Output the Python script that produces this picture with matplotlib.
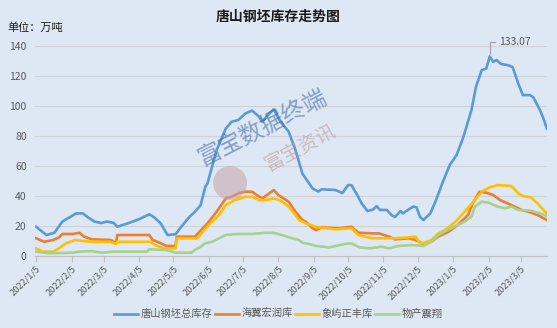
import numpy as np
import pandas as pd
import matplotlib
matplotlib.use("Agg")
import matplotlib.pyplot as plt
from matplotlib.patches import Circle
from matplotlib.transforms import IdentityTransform

plt.rcParams['font.family'] = ['Noto Sans CJK SC', 'DejaVu Sans']

# 唐山钢坯总库存
ts_dates = ['2022-01-05', '2022-01-14', '2022-01-21', '2022-01-28', '2022-02-09', '2022-02-15',
            '2022-02-19', '2022-02-25', '2022-03-03', '2022-03-08', '2022-03-14', '2022-03-17',
            '2022-03-27', '2022-04-05', '2022-04-14', '2022-04-18', '2022-04-24', '2022-04-30',
            '2022-05-07', '2022-05-11', '2022-05-19', '2022-05-24', '2022-05-29', '2022-06-02',
            '2022-06-04', '2022-06-12', '2022-06-20', '2022-06-25', '2022-07-01', '2022-07-07',
            '2022-07-13', '2022-07-19', '2022-07-22', '2022-07-28', '2022-08-01', '2022-08-07',
            '2022-08-14', '2022-08-20', '2022-08-26', '2022-09-04', '2022-09-09', '2022-09-12',
            '2022-09-24', '2022-09-30', '2022-10-05', '2022-10-08', '2022-10-13', '2022-10-17',
            '2022-10-22', '2022-10-27', '2022-10-30', '2022-11-02', '2022-11-08', '2022-11-12',
            '2022-11-15', '2022-11-20', '2022-11-22', '2022-11-25', '2022-12-01', '2022-12-04',
            '2022-12-07', '2022-12-10', '2022-12-16', '2022-12-21', '2022-12-27', '2023-01-02',
            '2023-01-08', '2023-01-14', '2023-01-21', '2023-01-25', '2023-01-30', '2023-02-03',
            '2023-02-06', '2023-02-09', '2023-02-12', '2023-02-16', '2023-02-22', '2023-02-26',
            '2023-03-03', '2023-03-07', '2023-03-13', '2023-03-16', '2023-03-19', '2023-03-22',
            '2023-03-25', '2023-03-28']
ts_vals = [19.5, 14, 15.5, 23, 28.4, 28.4, 26, 23, 22, 23, 22, 19.5,
           22, 24.5, 27.8, 26, 21.8, 14, 14.5, 18.5, 26, 29.5, 34, 46,
           48.5, 70.7, 85, 89.5, 90.7, 95, 97, 93, 89.5, 95, 97.8, 89.5,
           83, 70.7, 55, 45, 43, 44.5, 44, 42, 47.3, 47.3, 40.7, 35,
           30, 31, 33.3, 30.7, 30.7, 27.3, 26, 30, 28.4, 30, 33, 32.4,
           26, 24, 28.4, 37.3, 49.5, 60.7, 67.3, 79.5, 97.3, 113, 124, 125,
           133.07, 129.5, 130.7, 128, 127.3, 126, 115, 107.3, 107.3, 106, 101.7, 97.3,
           91.7, 85]

# 海翼宏润库
hy_dates = ['2022-01-05', '2022-01-12', '2022-01-20', '2022-01-25', '2022-01-28', '2022-02-06',
            '2022-02-12', '2022-02-16', '2022-02-23', '2022-03-11', '2022-03-16', '2022-03-17',
            '2022-04-14', '2022-04-17', '2022-04-23', '2022-04-29', '2022-05-07', '2022-05-08',
            '2022-05-24', '2022-06-04', '2022-06-12', '2022-06-20', '2022-06-25', '2022-07-01',
            '2022-07-07', '2022-07-13', '2022-07-17', '2022-07-22', '2022-07-28', '2022-08-01',
            '2022-08-05', '2022-08-14', '2022-08-20', '2022-08-26', '2022-08-29', '2022-09-04',
            '2022-09-07', '2022-09-12', '2022-09-27', '2022-10-08', '2022-10-14', '2022-10-26',
            '2022-11-01', '2022-11-10', '2022-11-15', '2022-11-27', '2022-12-03', '2022-12-10',
            '2022-12-17', '2022-12-23', '2023-01-01', '2023-01-09', '2023-01-18', '2023-01-22',
            '2023-01-28', '2023-02-03', '2023-02-09', '2023-02-15', '2023-02-22', '2023-02-28',
            '2023-03-06', '2023-03-12', '2023-03-20', '2023-03-28']
hy_vals = [11.8, 9.5, 10.7, 12.4, 14.7, 14.7, 15.5, 12.9, 11.1, 10.7, 8.9, 14,
           14, 10.7, 8.9, 6.7, 6.7, 12.9, 12.9, 21.8, 29.5, 38.4, 39.5, 41.8,
           42.9, 42.9, 40.7, 38.4, 41.8, 44, 40.7, 36.2, 29.5, 24, 22.9, 18.5,
           17.3, 19.1, 18.5, 19.5, 15.5, 15.1, 15.1, 12.9, 11.1, 11.8, 10.7, 8,
           9.5, 13, 16.2, 20.7, 27.3, 35, 42.9, 42.2, 40.7, 37.3, 35, 32.9,
           30.7, 29.5, 27.3, 24]

# 象屿正丰库
xy_dates = ['2022-01-05', '2022-01-11', '2022-01-20', '2022-01-25', '2022-01-31', '2022-02-08',
            '2022-02-15', '2022-02-23', '2022-03-11', '2022-03-16', '2022-03-17', '2022-04-15',
            '2022-04-19', '2022-04-27', '2022-05-07', '2022-05-08', '2022-05-26', '2022-06-05',
            '2022-06-14', '2022-06-20', '2022-06-28', '2022-07-07', '2022-07-13', '2022-07-19',
            '2022-07-25', '2022-08-01', '2022-08-07', '2022-08-14', '2022-08-20', '2022-08-23',
            '2022-08-29', '2022-09-07', '2022-09-09', '2022-09-24', '2022-10-08', '2022-10-14',
            '2022-10-26', '2022-11-15', '2022-11-27', '2022-12-03', '2022-12-07', '2022-12-11',
            '2022-12-17', '2022-12-23', '2022-12-29', '2023-01-07', '2023-01-15', '2023-01-24',
            '2023-01-30', '2023-02-06', '2023-02-13', '2023-02-25', '2023-03-03', '2023-03-07',
            '2023-03-14', '2023-03-20', '2023-03-25', '2023-03-28']
xy_vals = [5.1, 2.9, 2.9, 5.1, 8.4, 10.7, 10, 9.5, 9.5, 8, 9.5, 9.5,
           7.3, 5.1, 5.1, 11.8, 11.8, 20.7, 27.3, 34, 37.3, 39.5, 39.5, 37.3,
           37.3, 38.4, 36.9, 32.9, 27.3, 24, 21.8, 19.5, 19.1, 17.8, 18.5, 14,
           11.8, 11.8, 12.4, 12.9, 8.4, 8.9, 10.7, 15.1, 17.3, 22.9, 29.5, 37.3,
           42.9, 45.8, 47.3, 46.7, 41.8, 40, 39.1, 35, 30.7, 28.4]

# 物产震翔
wc_dates = ['2022-01-05', '2022-01-16', '2022-02-06', '2022-02-12', '2022-02-22', '2022-03-04',
            '2022-03-13', '2022-04-12', '2022-04-14', '2022-04-29', '2022-05-07', '2022-05-21',
            '2022-05-24', '2022-05-29', '2022-06-02', '2022-06-08', '2022-06-20', '2022-07-01',
            '2022-07-13', '2022-07-25', '2022-08-01', '2022-08-08', '2022-08-17', '2022-08-23',
            '2022-08-26', '2022-09-01', '2022-09-07', '2022-09-14', '2022-09-18', '2022-10-02',
            '2022-10-08', '2022-10-15', '2022-10-24', '2022-11-03', '2022-11-10', '2022-11-18',
            '2022-11-30', '2022-12-10', '2022-12-17', '2022-12-23', '2023-01-03', '2023-01-15',
            '2023-01-21', '2023-01-24', '2023-01-30', '2023-02-05', '2023-02-13', '2023-02-19',
            '2023-02-25', '2023-03-03', '2023-03-14', '2023-03-20', '2023-03-28']
wc_vals = [2.9, 1.8, 2.2, 2.9, 3.3, 2.2, 2.9, 2.9, 4.4, 4, 2.2, 2.2,
           4, 6.2, 8.4, 9.5, 14, 14.7, 14.7, 15.5, 15.5, 14, 11.8, 10.7,
           8.9, 8, 6.7, 6.2, 5.6, 8, 8.4, 5.8, 5.1, 6.2, 5.1, 6.7,
           7.3, 6.7, 9.5, 14, 18.5, 22.9, 26.2, 32.9, 36.2, 35.6, 32.9, 31.8,
           32.9, 30.7, 30.2, 28.9, 26.7]

series = [('唐山钢坯总库存', ts_dates, ts_vals, '#5b9bd5'),
          ('海翼宏润库', hy_dates, hy_vals, '#ed7d31'),
          ('象屿正丰库', xy_dates, xy_vals, '#ffc000'),
          ('物产震翔', wc_dates, wc_vals, '#a9d18e')]

tick_dates = pd.date_range('2022-01-01', '2023-03-01', freq='MS') + pd.Timedelta(days=4)

bg = '#dde8f4'
fig = plt.figure(figsize=(5.57, 3.28), dpi=100, facecolor=bg)
ax = fig.add_axes([0.0628, 0.2195, 0.919, 0.640], facecolor=bg)

for name, d, v, c in series:
    ax.plot(pd.to_datetime(d), v, color=c, lw=1.9, label=name, solid_joinstyle='round')

ax.set_ylim(0, 140)
ax.set_yticks(range(0, 141, 20))
ax.set_xlim(pd.Timestamp('2022-01-04'), pd.Timestamp('2023-03-28'))
ax.set_xticks(tick_dates)
ax.set_xticklabels([f'{d.year}/{d.month}/{d.day}' for d in tick_dates],
                   rotation=45, ha='right', rotation_mode='anchor', fontsize=6.7, color='#595959')
ax.tick_params(axis='y', length=0, labelsize=7.5, labelcolor='#595959', pad=6)
ax.tick_params(axis='x', length=4, color='#bfbfbf', width=0.8, pad=2)
ax.grid(axis='y', color='#d0d4d9', lw=0.8)
ax.set_axisbelow(True)
for s in ['top', 'right', 'left']:
    ax.spines[s].set_visible(False)
ax.spines['bottom'].set_color('#bfbfbf')
ax.spines['bottom'].set_linewidth(0.8)

# peak label
pk = int(np.argmax(ts_vals))
ax.annotate(f'{ts_vals[pk]:.2f}', xy=(pd.Timestamp(ts_dates[pk]), ts_vals[pk]),
            xytext=(9, 14), textcoords='offset pixels', ha='left', va='center',
            fontsize=7.5, color='#595959',
            arrowprops=dict(arrowstyle='-', color='#a6a6a6', lw=0.9, shrinkA=1, shrinkB=2,
                            connectionstyle='angle,angleA=0,angleB=90,rad=0'))

# watermark
fig.text(262 / 557, 1 - 128 / 328, '富宝数据终端', rotation=27, fontsize=17,
         color='#3f64a0', alpha=0.55, ha='center', va='center', family='Noto Sans CJK SC')
fig.text(300 / 557, 1 - 148 / 328, '富宝资讯', rotation=28, fontsize=14,
         color='#c49a9c', alpha=0.6, ha='center', va='center', family='Noto Sans CJK SC')
fig.patches.append(Circle((230, 328 - 183), 17, transform=IdentityTransform(),
                          facecolor='#c8a4a8', edgecolor='none', alpha=0.55))

fig.text(0.5, 1 - 17 / 328, '唐山钢坯库存走势图', ha='center', va='center',
         fontsize=10, fontweight='bold', color='#1a1a1a')
fig.text(7 / 557, 1 - 28 / 328, '单位：万吨', ha='left', va='center', fontsize=8, color='#1a1a1a')

fig.legend(loc='center', bbox_to_anchor=(0.5, 1 - 314 / 328), ncol=4, frameon=False,
           fontsize=7.4, handlelength=2.3, columnspacing=0.2, handletextpad=0.3,
           labelcolor='#595959')

fig.savefig('out.png', dpi=100, facecolor=bg)
